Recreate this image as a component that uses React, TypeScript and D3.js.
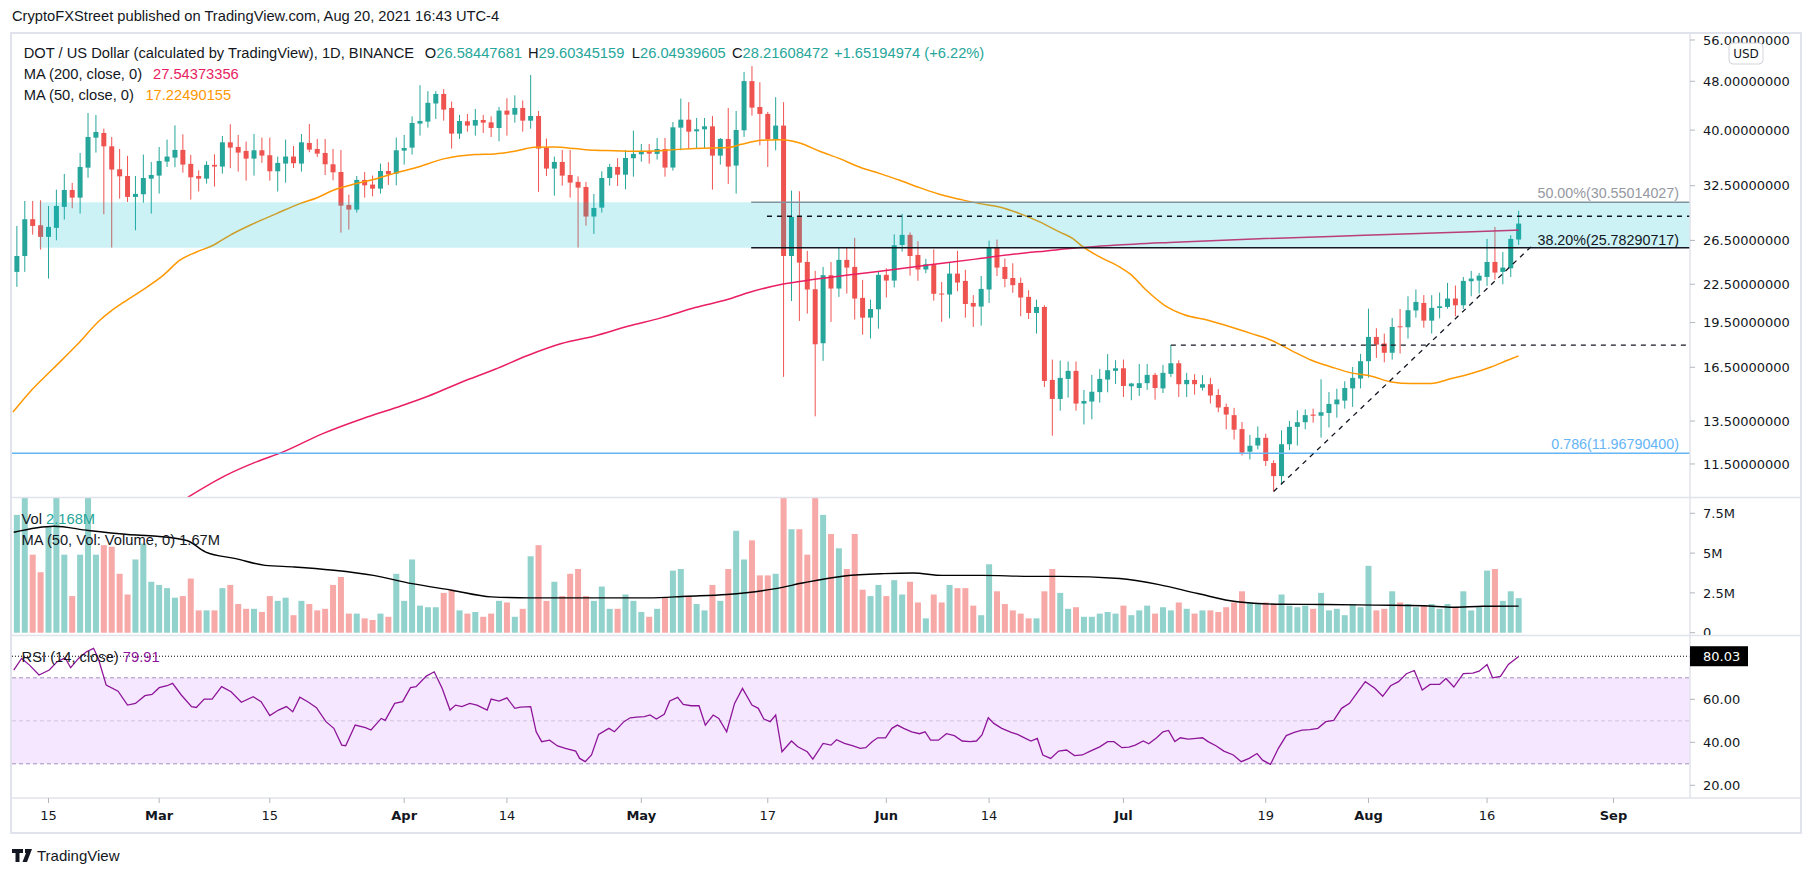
import React from "react";
import * as d3 from "d3";

// ---------------- DATA ----------------
const DAY = 86400000;
const FIRST_CANDLE = Date.UTC(2021, 1, 11); // Feb 11, 2021 (daily candles)
const AXIS_START = Date.UTC(2021, 1, 15);
const AXIS_END = Date.UTC(2021, 8, 1);

// [open, high, low, close]
const ohlc: number[][] = [
  [23.56, 27.97, 22.28, 25.0], [25.0, 30.7, 23.56, 28.68], [28.68, 30.7, 27.08, 27.97], [28.04, 30.78, 25.6, 26.85],
  [26.85, 30.14, 22.98, 27.87], [27.77, 32.03, 26.51, 30.14], [30.03, 33.96, 28.64, 31.99], [31.99, 32.84, 29.88, 31.09],
  [31.09, 36.73, 29.29, 34.86], [34.77, 42.64, 33.49, 38.99], [38.89, 42.33, 36.78, 39.72], [39.58, 40.22, 29.22, 37.65],
  [37.65, 38.99, 25.8, 34.52], [34.56, 37.28, 30.97, 33.66], [33.7, 36.33, 30.59, 31.17], [31.17, 33.7, 27.52, 31.52],
  [31.48, 36.51, 30.51, 33.45], [33.37, 35.52, 29.29, 33.83], [33.75, 37.56, 31.56, 35.65], [35.56, 38.61, 34.86, 36.24],
  [36.1, 40.72, 34.82, 37.15], [37.15, 39.38, 34.13, 35.17], [35.26, 36.46, 30.86, 33.54], [33.7, 34.43, 31.8, 33.37],
  [33.37, 35.61, 32.76, 35.13], [35.13, 36.55, 32.39, 34.91], [34.91, 39.13, 34.0, 38.22], [38.22, 40.88, 34.69, 37.47],
  [37.56, 39.28, 34.26, 36.78], [37.01, 38.32, 33.12, 35.96], [35.96, 39.43, 33.75, 37.1], [37.1, 38.89, 35.39, 36.37],
  [36.42, 38.89, 33.12, 34.3], [34.3, 36.24, 31.8, 35.39], [35.3, 38.61, 32.88, 36.24], [36.24, 37.7, 34.73, 35.35],
  [35.3, 39.43, 34.26, 38.22], [38.13, 40.93, 36.83, 37.19], [37.28, 38.7, 36.19, 36.64], [36.73, 38.7, 33.83, 35.21],
  [35.21, 37.28, 33.17, 34.17], [34.21, 37.14, 27.28, 30.17], [30.25, 31.44, 27.59, 29.73], [29.73, 33.7, 29.4, 33.21],
  [33.21, 34.21, 31.09, 32.55], [32.64, 33.75, 31.24, 32.15], [32.15, 35.3, 31.56, 34.34], [34.34, 35.48, 32.6, 33.91],
  [34.0, 38.89, 32.55, 37.1],
  [37.05, 39.28, 35.17, 37.42], [37.47, 42.11, 36.51, 41.08], [40.98, 47.3, 39.19, 41.39], [41.29, 46.27, 40.37, 44.29],
  [44.18, 46.27, 41.7, 45.78], [45.78, 46.62, 41.44, 43.18], [43.45, 44.51, 37.33, 39.48], [39.48, 42.33, 38.7, 41.39],
  [41.34, 42.48, 39.77, 40.68], [40.68, 43.29, 39.19, 41.54], [41.54, 42.33, 39.58, 41.13], [41.18, 42.11, 38.99, 40.32],
  [40.32, 43.61, 38.37, 43.02], [43.02, 45.06, 39.19, 42.38], [42.38, 45.55, 41.13, 43.45], [43.45, 44.68, 39.77, 41.44],
  [41.44, 49.15, 40.22, 42.17], [42.17, 42.97, 31.76, 37.33], [37.47, 38.75, 33.7, 34.65], [34.65, 36.24, 31.32, 35.52],
  [35.52, 37.14, 32.51, 33.75], [33.83, 37.14, 31.09, 32.88], [32.97, 33.66, 25.8, 32.27], [32.35, 32.97, 28.0, 28.97],
  [28.97, 31.52, 27.15, 29.91], [29.95, 34.3, 29.4, 33.45], [33.45, 35.26, 32.51, 34.86], [34.86, 36.01, 32.47, 33.87],
  [33.87, 37.14, 32.07, 36.05], [36.01, 39.92, 33.62, 36.6], [36.55, 37.98, 35.56, 37.01], [37.01, 37.98, 35.3, 36.64],
  [36.6, 38.84, 35.83, 37.28], [37.28, 38.84, 33.62, 34.78], [34.78, 41.23, 34.39, 40.42], [40.37, 45.0, 37.1, 41.59],
  [41.59, 44.4, 37.33, 39.77], [39.82, 41.86, 37.28, 40.12], [40.12, 41.86, 37.33, 40.57], [40.57, 42.17, 32.03, 36.37],
  [36.37, 38.84, 35.17, 38.7], [38.7, 43.45, 32.72, 34.91], [35.04, 42.97, 31.56, 40.02], [39.97, 49.7, 38.99, 48.03],
  [48.03, 50.81, 42.22, 43.5], [43.61, 47.83, 37.79, 42.49], [42.49, 42.81, 34.86, 38.65], [38.65, 45.23, 37.1, 40.68],
  [40.68, 44.4, 15.92, 25.0], [25.0, 31.91, 21.13, 28.93], [28.93, 31.83, 19.62, 24.39], [24.45, 25.48, 20.16, 22.06],
  [22.08, 23.65, 13.74, 17.98], [18.05, 24.0, 16.9, 23.27], [23.27, 24.45, 19.55, 22.14], [22.14, 25.8, 21.46, 24.64],
  [24.64, 25.8, 21.73, 23.94], [24.0, 26.75, 19.72, 21.33], [21.38, 22.86, 18.64, 19.86], [19.86, 21.24, 18.37, 20.51],
  [20.49, 23.59, 19.06, 23.3], [23.3, 23.88, 21.41, 22.81], [22.81, 27.11, 22.23, 26.02], [26.05, 29.25, 25.41, 27.05],
  [27.05, 27.3, 23.23, 25.0], [25.1, 26.42, 22.79, 23.77], [23.77, 24.74, 23.44, 24.24], [24.24, 25.63, 21.16, 21.71],
  [21.73, 22.69, 19.55, 21.65], [21.65, 24.45, 19.81, 23.41], [23.41, 25.48, 21.92, 22.64], [22.78, 23.74, 19.86, 20.9],
  [20.98, 21.6, 19.18, 20.7], [20.7, 23.2, 19.28, 22.11], [22.06, 26.48, 20.98, 25.83], [25.83, 26.58, 23.2, 23.94],
  [24.0, 24.77, 22.25, 22.95], [23.03, 24.33, 21.79, 22.42], [22.61, 23.06, 19.96, 21.41], [21.46, 22.0, 19.76, 20.21],
  [20.21, 21.24, 18.71, 20.67], [20.67, 20.8, 15.33, 15.68], [15.74, 16.98, 12.78, 14.66], [14.66, 16.92, 14.03, 15.86],
  [15.8, 16.86, 14.73, 16.28], [16.28, 16.86, 14.03, 14.41], [14.41, 15.16, 13.33, 14.55], [14.52, 16.04, 13.59, 15.06],
  [15.04, 16.4, 14.46, 15.8], [15.76, 17.33, 15.03, 16.32], [16.28, 16.94, 15.5, 16.44], [16.44, 16.98, 14.77, 15.39],
  [15.37, 15.57, 14.59, 15.53], [15.27, 16.71, 14.83, 15.55], [15.55, 16.71, 15.17, 16.04], [16.04, 16.16, 14.62, 15.27],
  [15.25, 16.65, 14.99, 16.16],
  [16.1, 17.93, 15.92, 16.75], [16.75, 16.94, 14.77, 15.49], [15.49, 16.16, 14.77, 15.74], [15.74, 16.08, 14.9, 15.49],
  [15.29, 16.02, 15.13, 15.49], [15.49, 15.86, 14.41, 14.85], [14.88, 15.21, 13.95, 14.2], [14.23, 14.41, 13.09, 13.83],
  [13.8, 14.18, 12.6, 13.07], [13.1, 13.45, 11.87, 11.99], [12.04, 12.82, 11.7, 12.31], [12.32, 13.23, 12.14, 12.68],
  [12.68, 12.88, 11.41, 11.63], [11.54, 11.66, 10.38, 10.99], [10.99, 13.04, 10.65, 12.38], [12.38, 13.5, 12.11, 13.21],
  [13.21, 14.05, 12.32, 13.44], [13.44, 14.1, 13.09, 13.8], [13.83, 14.14, 13.42, 13.77], [13.77, 15.78, 12.69, 13.95],
  [13.91, 15.04, 13.18, 14.39], [14.37, 15.23, 13.67, 14.63], [14.57, 15.66, 14.14, 15.27], [15.25, 16.52, 14.23, 15.86],
  [15.82, 17.35, 15.25, 16.88], [16.88, 20.54, 15.88, 18.48], [18.48, 19.09, 17.09, 17.96], [18.03, 18.71, 16.81, 17.42],
  [17.42, 19.84, 16.98, 19.18], [19.23, 20.51, 17.37, 19.16], [19.16, 21.51, 18.37, 20.42], [20.4, 22.06, 19.86, 21.06],
  [20.98, 21.6, 19.13, 19.64], [19.64, 21.6, 18.71, 20.6], [20.59, 21.81, 19.81, 20.72], [20.67, 22.61, 20.54, 21.33],
  [21.33, 22.39, 19.96, 20.8], [20.8, 23.12, 20.51, 22.78], [22.75, 23.65, 21.51, 22.98], [22.81, 23.47, 21.73, 23.23],
  [23.12, 26.65, 22.36, 24.45], [24.45, 27.87, 22.89, 23.5], [23.56, 25.38, 22.5, 23.94], [23.88, 27.02, 23.12, 26.65],
  [26.58447681, 29.60345159, 26.04939605, 28.21608472],
];

// volume in millions, one per candle
const volumes: number[] = [
  7.4, 9.0, 4.9, 3.8, 6.7, 9.5, 4.9, 2.3, 4.9, 9.5, 4.9, 5.5, 5.4, 3.7,
  2.4, 4.6, 5.6, 3.2, 3.0, 2.8, 2.2, 2.3, 3.4, 1.4,
  1.4, 1.4, 2.8, 3.0, 1.8, 1.5, 1.5, 1.3, 2.3, 2.0,
  2.2, 1.1, 2.0, 1.8, 1.4, 1.5, 3.0, 3.5, 1.2, 1.2,
  0.9, 0.8, 1.2, 1.0, 3.7, 2.0, 4.6, 1.7, 1.6, 1.6,
  2.5, 2.7, 1.4, 1.2, 1.3, 1.0, 1.2, 2.0, 1.9, 1.0,
  1.5, 4.8, 5.5, 2.0, 3.2, 2.3, 3.7, 4.0, 2.3, 2.0,
  2.9, 1.5, 1.5, 2.4, 2.0, 1.3, 1.0, 1.5, 2.2, 3.9,
  4.0, 2.3, 1.8, 1.4, 3.0, 2.0, 4.0, 6.4, 4.6, 5.8,
  3.6, 3.6, 3.7, 10.5, 6.5, 6.5, 4.9, 10.0, 7.4, 6.2,
  5.3, 4.0, 6.2, 2.7, 2.3, 3.0, 2.3, 3.3, 2.4, 3.2,
  1.9, 0.9, 2.4, 1.9, 3.0, 2.8, 2.8, 1.7, 1.1, 4.3,
  2.6, 1.8, 1.4, 1.2, 0.9, 0.9, 2.6, 4.0, 2.5, 1.5,
  1.6, 1.0, 1.0, 1.2, 1.3, 1.2, 1.7, 1.1, 1.4, 1.7,
  1.2, 1.6, 1.4, 1.9, 1.5, 1.2, 1.4, 1.4, 1.3, 1.6,
  1.9, 2.6, 1.9, 1.8, 1.9, 1.8, 2.4, 1.7, 1.6, 1.7,
  1.5, 2.5, 1.4, 1.5, 1.1, 1.8, 1.6, 4.2, 1.4, 1.5,
  2.6, 1.9, 1.8, 1.6, 1.7, 1.8, 1.5, 1.8, 1.6, 2.6,
  1.4, 1.6, 3.9, 4.0, 2.0, 2.6, 2.168,
];

// moving averages: [days after Feb 15, value]
const ma200Pts: [number, number][] = [
  [17.6, 10.15], [22.5, 11.03], [26.3, 11.59], [29.7, 12.03], [34.7, 12.88], [39.8, 13.63], [44.0, 14.2],
  [48.0, 14.81], [52.3, 15.62], [56.5, 16.38], [60.7, 17.26], [64.9, 18.03], [69.1, 18.55], [73.3, 19.23],
  [77.6, 19.86], [81.8, 20.62], [86.0, 21.27], [88.5, 21.79], [92.8, 22.5], [96.7, 22.89], [100.9, 23.26],
  [105.2, 23.62], [109.4, 24.0], [113.6, 24.37], [117.8, 24.76], [122.0, 25.16], [126.2, 25.48], [130.5, 25.8],
  [134.7, 26.02], [141.8, 26.3], [153.9, 26.68], [166.5, 27.01], [179.2, 27.35], [186, 27.54],
];
const ma50Pts: [number, number][] = [
  [-4.5, 13.96], [-2.35, 15.05], [0.6, 16.42], [3.55, 17.91], [6.5, 19.67], [7.77, 20.29], [9.88, 21.19],
  [11.98, 22.06], [14.51, 23.26], [16.62, 24.61], [18.73, 25.38], [20.84, 26.02], [22.95, 27.01], [25.48, 28.04],
  [28.85, 29.29], [31.8, 30.4], [33.91, 31.05], [36.02, 31.95], [38.97, 32.76], [41.5, 33.37], [44.0, 34.1],
  [46.35, 34.73], [50.14, 35.96], [53.93, 36.51], [56.46, 36.6], [58.99, 36.96], [61.52, 37.51], [64.05, 37.56],
  [66.58, 37.33], [69.11, 37.1], [71.64, 37.05], [74.17, 36.96], [76.7, 37.01], [79.23, 37.19], [81.76, 37.33],
  [84.29, 37.42], [85.98, 37.47], [87.66, 37.94], [90.19, 38.51], [92.51, 38.6], [95.04, 38.13], [97.57, 36.96],
  [100.1, 35.96], [102.6, 34.86], [105.2, 34.0], [107.7, 33.17], [110.2, 32.27], [112.7, 31.48], [115.3, 30.9],
  [117.8, 30.4], [120.3, 30.03], [122.9, 29.29], [125.4, 28.39], [127.9, 27.35], [129.6, 26.68], [130.9, 25.86],
  [133.0, 24.91], [135.5, 24.0], [136.8, 23.41], [138.9, 22.0], [141.2, 20.8], [143.7, 20.08], [146.7, 19.67],
  [149.6, 19.18], [152.2, 18.71], [154.7, 18.25], [157.2, 17.58], [159.8, 16.94], [162.3, 16.52], [164.8, 16.16],
  [167.4, 15.96], [169.9, 15.62], [172.4, 15.53], [174.9, 15.53], [177.5, 15.82], [180.0, 16.12], [182.5, 16.52],
  [184.6, 16.94], [186, 17.22],
];
const volMaPts: [number, number][] = [
  [-4.4, 6.31], [0.69, 6.69], [5.03, 6.42], [10.0, 6.17], [13.7, 6.06], [17.5, 5.79], [19.9, 5.06], [23.7, 4.65],
  [27.4, 4.23], [31.1, 4.13], [36.1, 3.92], [41.1, 3.6], [46.0, 3.08], [51.0, 2.67], [56.0, 2.25], [61.0, 2.19],
  [68.4, 2.19], [75.9, 2.19], [80.8, 2.29], [85.8, 2.4], [92.0, 2.77], [95.7, 3.15], [100.7, 3.56], [105.7, 3.71],
  [109.4, 3.75], [113.1, 3.6], [118.1, 3.6], [124.3, 3.54], [128.0, 3.54], [135.5, 3.4], [140.5, 3.02],
  [145.4, 2.46], [150.4, 1.94], [155.4, 1.79], [161.6, 1.77], [167.8, 1.73], [174.0, 1.69], [177.7, 1.6],
  [181.5, 1.66], [186, 1.67],
];
const rsiPts: [number, number][] = [
  [-4.4, 73.6], [-3.4, 79.0], [-2.4, 75.9], [-1.2, 71.3], [0.1, 73.6], [1.1, 77.5], [2.1, 79.3], [2.8, 74.7],
  [3.8, 79.0], [4.8, 82.1], [5.7, 83.7], [6.3, 79.0], [7.3, 66.6], [8.8, 63.8], [10, 57.3], [11, 58.1],
  [12.2, 61.7], [13.1, 62.3], [14, 65.4], [15, 66.3], [15.7, 67.4], [16.8, 62.0], [18.1, 56.6], [18.7, 56.2],
  [19.7, 60.1], [20.7, 60.1], [21.9, 65.9], [23.1, 63.5], [24.4, 58.6], [25.9, 61.2], [26.9, 58.9], [28, 52.4],
  [29.1, 55.0], [30.1, 56.6], [30.9, 54.2], [31.8, 61.0], [32.9, 58.6], [33.9, 56.1], [35.1, 49.6], [36.1, 46.5],
  [37.1, 38.7], [37.6, 38.4], [38.8, 48.0], [40.1, 46.8], [40.8, 45.7], [42.1, 51.1], [42.6, 50.2], [43.8, 58.1],
  [44.8, 58.9], [45.8, 65.4], [46.5, 65.9], [47.8, 70.8], [48.8, 72.8], [49.8, 65.1], [50.8, 55.0], [51.5, 57.3],
  [52.3, 56.6], [53.3, 58.1], [54.2, 57.3], [55.5, 55.0], [56, 60.1], [57, 59.2], [58, 60.7], [59, 55.8],
  [59.7, 56.4], [61, 56.6], [61.7, 44.9], [62.4, 40.3], [63.4, 41.0], [64.4, 38.3], [65.4, 37.2], [66.7, 35.9],
  [67.2, 32.5], [67.9, 31.0], [68.7, 34.1], [69.6, 43.7], [70.9, 46.5], [71.6, 44.9], [72.8, 49.6], [73.6, 51.4],
  [74.4, 51.7], [75.4, 51.9], [76.1, 52.7], [76.9, 50.8], [77.9, 53.0], [78.6, 59.2], [79.6, 60.9], [80.3, 57.6],
  [81.3, 57.0], [82.3, 57.0], [83.1, 48.0], [84.1, 52.7], [84.8, 51.1], [85.8, 44.9], [86.8, 58.1], [87.8, 65.1],
  [89, 57.3], [89.8, 55.8], [90.5, 50.8], [91.3, 49.6], [92, 52.7], [92.8, 35.6], [94, 40.6], [94.8, 37.9],
  [96, 35.6], [96.7, 32.2], [98, 39.5], [99, 38.7], [99.7, 41.2], [100.7, 39.5], [101.7, 38.4], [102.7, 37.2],
  [103.4, 37.5], [104.2, 40.3], [104.9, 42.1], [105.9, 42.1], [106.7, 46.5], [107.4, 48.0], [108.2, 46.5],
  [109.2, 44.9], [110.2, 44.0], [110.9, 44.9], [111.6, 41.0], [112.6, 41.0], [113.6, 44.0], [114.6, 43.1],
  [115.6, 40.6], [116.6, 40.3], [117.4, 40.6], [118.1, 43.4], [118.9, 51.4], [119.6, 48.8], [120.6, 46.5],
  [121.8, 44.6], [122.6, 43.7], [123.6, 41.8], [124.3, 40.6], [125.1, 41.8], [125.8, 34.1], [126.8, 32.5],
  [127.8, 35.9], [128.8, 36.4], [129.8, 33.8], [130.8, 34.1], [131.8, 35.9], [133, 37.9], [134, 40.3],
  [134.8, 40.3], [135.8, 37.5], [136.7, 37.8], [137.5, 38.7], [138.5, 40.6], [139.2, 39.3], [140.2, 42.1],
  [141, 44.9], [141.7, 45.5], [142.5, 40.3], [143.2, 42.1], [144.2, 41.5], [145.2, 41.8], [146, 42.1],
  [146.7, 40.3], [147.7, 38.4], [148.7, 35.9], [149.9, 34.1], [150.9, 31.0], [151.9, 32.5], [152.9, 34.8],
  [153.6, 31.7], [154.6, 29.7], [155.6, 37.2], [156.6, 43.1], [157.6, 44.6], [158.6, 45.7], [159.6, 45.9],
  [160.6, 46.5], [161.6, 49.6], [162.6, 50.2], [163.6, 55.8], [164.6, 58.1], [165.6, 63.2], [166.6, 68.2],
  [167.8, 65.1], [168.8, 61.4], [169.8, 66.3], [170.8, 68.2], [171.8, 71.9], [172.8, 73.4], [173.8, 64.3],
  [174.8, 66.9], [176, 66.9], [176.8, 69.7], [177.8, 65.7], [179, 71.9], [180.2, 72.2], [181, 73.1],
  [182, 76.2], [182.7, 70.0], [183.7, 70.7], [184.7, 76.2], [186, 79.91],
];

const priceTicks = [56, 48, 40, 32.5, 26.5, 22.5, 19.5, 16.5, 13.5, 11.5];
const volTicks = [7.5, 5, 2.5, 0];
const volTickLabels = ["7.5M", "5M", "2.5M", "0"];
const rsiTicks = [60, 40, 20];
const rsiLast = 80.03;
const timeTicks: [string, string, boolean][] = [
  ["2021-02-15", "15", false], ["2021-03-01", "Mar", true], ["2021-03-15", "15", false],
  ["2021-04-01", "Apr", true], ["2021-04-14", "14", false], ["2021-05-01", "May", true],
  ["2021-05-17", "17", false], ["2021-06-01", "Jun", true], ["2021-06-14", "14", false],
  ["2021-07-01", "Jul", true], ["2021-07-19", "19", false], ["2021-08-01", "Aug", true],
  ["2021-08-16", "16", false], ["2021-09-01", "Sep", true],
];

// annotations (price levels / day anchors)
const fib50 = 30.55014027;
const fib382 = 25.78290717;
const fib786 = 11.967904;
const zoneStartDay = -1.16;
const fibStartDay = 88.9;
const resistLevel = 29.0;
const resistStartDay = 90.9;
const julyHighLevel = 17.93;
const julyHighDay = 142;
const trendPts: [number, number][] = [[155, 10.38], [187.6, 25.9]];

// ---------------- LAYOUT ----------------
const W = 1813;
const H = 877;
const PL = 12;
const PR = 1690;
const P_TOP = 34;
const P_BOT = 497;
const V_TOP = 498;
const V_BOT = 635;
const S_TOP = 636;
const S_BOT = 798;

const UP = "#26a69a";
const DN = "#ef5350";
const TXT = "#131722";
const FL = "'Liberation Sans', Arial, sans-serif";
const FD = "'DejaVu Sans', Verdana, sans-serif";

export default function App() {
  const xs = d3.scaleUtc().domain([new Date(AXIS_START), new Date(AXIS_END)]).range([48.5, 1613.5]);
  const xd = (d: number) => xs(new Date(AXIS_START + d * DAY));
  const xi = (i: number) => xs(new Date(FIRST_CANDLE + i * DAY));
  const yp = d3.scaleLog().domain([fib786, fib50]).range([453.3, 202.3]);
  const yv = d3.scaleLinear().domain([0, 7.5]).range([632.7, 513.3]);
  const yr = d3.scaleLinear().domain([20, 80]).range([785.3, 656.3]);

  const priceLine = d3.line<[number, number]>().x((p) => xd(p[0])).y((p) => yp(p[1])).curve(d3.curveMonotoneX);
  const volLine = d3.line<[number, number]>().x((p) => xd(p[0])).y((p) => yv(p[1])).curve(d3.curveMonotoneX);
  const rsiLine = d3.line<[number, number]>().x((p) => xd(p[0])).y((p) => yr(p[1]));
  const trendLine = d3.line<[number, number]>().x((p) => xd(p[0])).y((p) => yp(p[1]));

  const bodyW = 5;
  const volW = 6;

  const legend = (x: number, y: number, parts: [string, string][], size = 14.7) => (
    <text x={x} y={y} dy="0.35em" fontFamily={FL} fontSize={size}>
      {parts.map(([t, c], k) => (
        <tspan key={k} fill={c}>{t}</tspan>
      ))}
    </text>
  );

  return (
    <div style={{ position: "fixed", left: 0, top: 0, width: W, height: H, background: "#fff" }}>
      <svg width={W} height={H} viewBox={`0 0 ${W} ${H}`} style={{ display: "block" }}>
        <defs>
          <clipPath id="cp-price"><rect x={PL} y={P_TOP} width={PR - PL} height={P_BOT - P_TOP} /></clipPath>
          <clipPath id="cp-vol"><rect x={PL} y={V_TOP} width={PR - PL} height={V_BOT - V_TOP} /></clipPath>
          <clipPath id="cp-rsi"><rect x={PL} y={S_TOP} width={PR - PL} height={S_BOT - S_TOP} /></clipPath>
          <clipPath id="cp-volaxis"><rect x={PR} y={V_TOP} width={110} height={V_BOT - V_TOP} /></clipPath>
          <clipPath id="cp-priceaxis"><rect x={PR} y={P_TOP} width={110} height={P_BOT - P_TOP} /></clipPath>
        </defs>
        <rect x={0} y={0} width={W} height={H} fill="#fff" />

        {/* publisher line */}
        <text x={12} y={16} dy="0.35em" fontFamily={FL} fontSize={14.7} fill={TXT}>
          CryptoFXStreet published on TradingView.com, Aug 20, 2021 16:43 UTC-4
        </text>

        {/* frame */}
        <rect x={11} y={33} width={1790} height={800} fill="#fff" stroke="#e0e3eb" strokeWidth={2} />

        {/* ---------- PRICE PANE ---------- */}
        <g clipPath="url(#cp-price)">
          {ohlc.map((c, i) => {
            const [o, h, l, cl] = c;
            const x = xi(i);
            const col = cl >= o ? UP : DN;
            const yTop = yp(Math.max(o, cl));
            const yBot = yp(Math.min(o, cl));
            return (
              <g key={i}>
                <line x1={x} x2={x} y1={yp(h)} y2={yp(l)} stroke={col} strokeWidth={1} />
                <rect x={x - bodyW / 2} y={yTop} width={bodyW} height={Math.max(1, yBot - yTop)} fill={col} />
              </g>
            );
          })}
          <path d={priceLine(ma200Pts) || ""} fill="none" stroke="#e91e63" strokeWidth={1.5} />
          <path d={priceLine(ma50Pts) || ""} fill="none" stroke="#ff9800" strokeWidth={1.5} />
          {/* fib zone */}
          <rect x={xd(zoneStartDay)} y={yp(fib50)} width={PR - xd(zoneStartDay)} height={yp(fib382) - yp(fib50)}
            fill="rgba(0,188,212,0.2)" />
          <line x1={xd(fibStartDay)} x2={PR} y1={yp(fib50)} y2={yp(fib50)} stroke="#7f949c" strokeWidth={1.5} />
          <line x1={xd(fibStartDay)} x2={PR} y1={yp(fib382)} y2={yp(fib382)} stroke={TXT} strokeWidth={1.5} />
          <line x1={PL} x2={PR} y1={yp(fib786)} y2={yp(fib786)} stroke="#64b5f6" strokeWidth={1.5} />
          <line x1={xd(resistStartDay)} x2={PR} y1={yp(resistLevel)} y2={yp(resistLevel)} stroke={TXT}
            strokeWidth={1.3} strokeDasharray="5,5" />
          <line x1={xd(julyHighDay)} x2={PR} y1={yp(julyHighLevel)} y2={yp(julyHighLevel)} stroke={TXT}
            strokeWidth={1.3} strokeDasharray="5,5" />
          <path d={trendLine(trendPts) || ""} fill="none" stroke={TXT} strokeWidth={1.3} strokeDasharray="5,5" />
          <text x={1679} y={193} dy="0.35em" textAnchor="end" fontFamily={FL} fontSize={14.3} fill="#9598a1">
            50.00%(30.55014027)
          </text>
          <text x={1679} y={239.5} dy="0.35em" textAnchor="end" fontFamily={FL} fontSize={14.3} fill={TXT}>
            38.20%(25.78290717)
          </text>
          <text x={1679} y={443.5} dy="0.35em" textAnchor="end" fontFamily={FL} fontSize={14.3} fill="#64b5f6">
            0.786(11.96790400)
          </text>
        </g>

        {/* price legend */}
        {legend(23.7, 53, [["DOT / US Dollar (calculated by TradingView), 1D, BINANCE", TXT]])}
        {legend(424.8, 53, [["O", TXT], ["26.58447681", UP]])}
        {legend(528, 53, [["H", TXT], ["29.60345159", UP]])}
        {legend(631.8, 53, [["L", TXT], ["26.04939605", UP]])}
        {legend(732, 53, [["C", TXT], ["28.21608472", UP]])}
        {legend(834, 53, [["+1.65194974 (+6.22%)", UP]])}
        {legend(23.7, 74, [["MA (200, close, 0)", TXT]])}
        {legend(153, 74, [["27.54373356", "#e91e63"]])}
        {legend(23.7, 95, [["MA (50, close, 0)", TXT]])}
        {legend(145.4, 95, [["17.22490155", "#ff9800"]])}

        {/* ---------- VOLUME PANE ---------- */}
        <g clipPath="url(#cp-vol)">
          {volumes.map((v, i) => {
            if (i >= ohlc.length) return null;
            const c = ohlc[i];
            const col = c[3] >= c[0] ? "rgba(38,166,154,0.5)" : "rgba(239,83,80,0.5)";
            const x = xi(i);
            return <rect key={i} x={x - volW / 2} y={yv(v)} width={volW} height={yv(0) - yv(v)} fill={col} />;
          })}
          <path d={volLine(volMaPts) || ""} fill="none" stroke="#000" strokeWidth={1.4} />
        </g>
        {legend(21.6, 519, [["Vol ", TXT], ["2.168M", UP]])}
        {legend(21.6, 540, [["MA (50, Vol: Volume, 0)  ", TXT], ["1.67M", TXT]])}

        {/* ---------- RSI PANE ---------- */}
        <g clipPath="url(#cp-rsi)">
          <rect x={PL} y={yr(70)} width={PR - PL} height={yr(30) - yr(70)} fill="rgba(153,21,255,0.1)" />
          <line x1={PL} x2={PR} y1={yr(70)} y2={yr(70)} stroke="#a58fbf" strokeWidth={1} strokeDasharray="4,3" />
          <line x1={PL} x2={PR} y1={yr(50)} y2={yr(50)} stroke="#d2c3e0" strokeWidth={1} strokeDasharray="4,3" />
          <line x1={PL} x2={PR} y1={yr(30)} y2={yr(30)} stroke="#a58fbf" strokeWidth={1} strokeDasharray="4,3" />
          <line x1={PL} x2={PR} y1={yr(rsiLast)} y2={yr(rsiLast)} stroke="#000" strokeWidth={1} strokeDasharray="1,2" />
          <path d={rsiLine(rsiPts) || ""} fill="none" stroke="#8e1599" strokeWidth={1.3} />
        </g>
        {legend(21.6, 657, [["RSI (14, close)  ", TXT], ["79.91", "#8e1599"]])}

        {/* ---------- SEPARATORS ---------- */}
        <line x1={PR} x2={PR} y1={P_TOP} y2={S_BOT} stroke="#e0e3eb" strokeWidth={1.5} />
        <line x1={PL} x2={1800} y1={497.5} y2={497.5} stroke="#e0e3eb" strokeWidth={1.5} />
        <line x1={PL} x2={1800} y1={635.5} y2={635.5} stroke="#e0e3eb" strokeWidth={1.5} />
        <line x1={PL} x2={1800} y1={798} y2={798} stroke="#e0e3eb" strokeWidth={1.5} />

        {/* ---------- PRICE AXIS ---------- */}
        <g clipPath="url(#cp-priceaxis)">
          {priceTicks.map((t) => (
            <g key={t}>
              <line x1={PR} x2={PR + 5} y1={yp(t)} y2={yp(t)} stroke="#b2b5be" />
              <text x={1703} y={yp(t)} dy="0.36em" fontFamily={FD} fontSize={13} fill={TXT}>
                {t.toFixed(8)}
              </text>
            </g>
          ))}
        </g>
        <rect x={1729} y={43} width={34} height={21} rx={4} fill="#fff" stroke="#d1d4dc" />
        <text x={1746} y={53.5} dy="0.36em" textAnchor="middle" fontFamily={FD} fontSize={12} fill={TXT}>USD</text>

        {/* volume axis */}
        <g clipPath="url(#cp-volaxis)">
          {volTicks.map((t, k) => (
            <g key={t}>
              <line x1={PR} x2={PR + 5} y1={yv(t)} y2={yv(t)} stroke="#b2b5be" />
              <text x={1703} y={yv(t)} dy="0.36em" fontFamily={FD} fontSize={13} fill={TXT}>
                {volTickLabels[k]}
              </text>
            </g>
          ))}
        </g>

        {/* rsi axis */}
        {rsiTicks.map((t) => (
          <g key={t}>
            <line x1={PR} x2={PR + 5} y1={yr(t)} y2={yr(t)} stroke="#b2b5be" />
            <text x={1703} y={yr(t)} dy="0.36em" fontFamily={FD} fontSize={13} fill={TXT}>
              {t.toFixed(2)}
            </text>
          </g>
        ))}
        <rect x={PR} y={yr(rsiLast) - 10} width={58} height={20} fill="#000" />
        <text x={1703} y={yr(rsiLast)} dy="0.36em" fontFamily={FD} fontSize={13} fill="#fff">
          {rsiLast.toFixed(2)}
        </text>

        {/* ---------- TIME AXIS ---------- */}
        {timeTicks.map(([ds, lab, isMonth]) => {
          const x = xs(new Date(ds + "T00:00:00Z"));
          return (
            <g key={ds}>
              <line x1={x} x2={x} y1={798} y2={803} stroke="#b2b5be" />
              <text x={x} y={815} dy="0.36em" textAnchor="middle" fontFamily={FD} fontSize={13}
                fontWeight={isMonth ? 600 : 400} fill={TXT}>
                {lab}
              </text>
            </g>
          );
        })}

        {/* ---------- FOOTER LOGO ---------- */}
        <g fill={TXT}>
          <path d="M12 849 h11 v4 h-3.5 v9 h-4 v-9 h-3.5 z" />
          <path d="M25 849 h7 l-5 13 h-4.5 l3.5 -9 h-1 z" />
        </g>
        <text x={37} y={856} dy="0.35em" fontFamily={FL} fontSize={15} fill={TXT}>TradingView</text>
      </svg>
    </div>
  );
}
